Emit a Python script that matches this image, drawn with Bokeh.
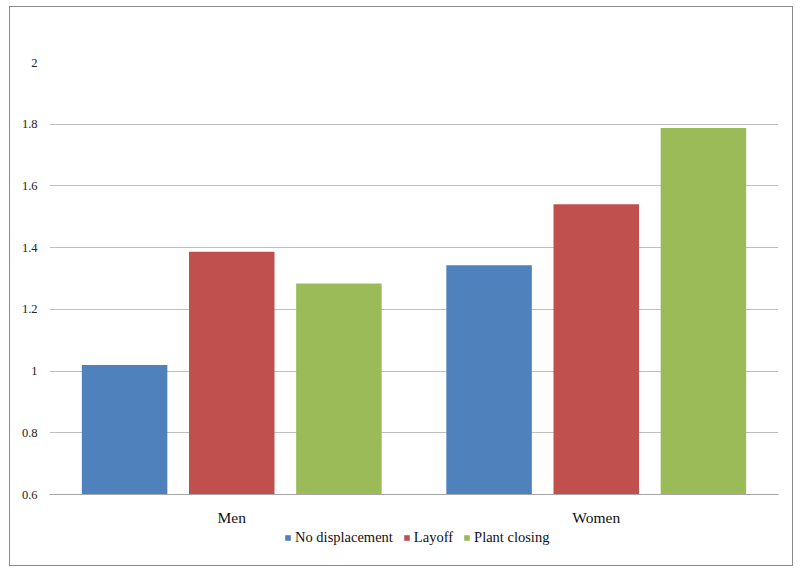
from bokeh.plotting import figure
from bokeh.layouts import column
from bokeh.models import ColumnDataSource, FactorRange, FixedTicker, Legend, LegendItem
from bokeh.transform import dodge
from bokeh.embed import file_html
from bokeh.resources import INLINE

groups = ["Men", "Women"]
series_names = ["No displacement", "Layoff", "Plant closing"]
no_displacement = [1.020, 1.343]
layoff = [1.387, 1.541]
plant_closing = [1.284, 1.788]
y_ticks = [0.6, 0.8, 1.0, 1.2, 1.4, 1.6, 1.8, 2.0]
y_tick_labels = ["0.6", "0.8", "1", "1.2", "1.4", "1.6", "1.8", "2"]

colors = ["#4F81BD", "#C0504D", "#9BBB59"]
offsets = [-0.294, 0.0, 0.294]
series_cols = ["s0", "s1", "s2"]

source = ColumnDataSource(dict(groups=groups, s0=no_displacement, s1=layoff, s2=plant_closing))

p = figure(x_range=FactorRange(*groups, range_padding=0), y_range=(0.6, 2.0),
           width=784, height=522, output_backend="svg", toolbar_location=None,
           min_border_left=40, min_border_right=15, min_border_top=56, min_border_bottom=32)
p.border_fill_color = None
p.background_fill_color = None

for i, (col, c) in enumerate(zip(series_cols, colors)):
    p.vbar(x=dodge("groups", offsets[i], range=p.x_range), top=col, bottom=0.6,
           width=0.2346, source=source, fill_color=c, line_color=None)

p.outline_line_color = None
p.xgrid.grid_line_color = None
p.ygrid.grid_line_color = "#C0C0C0"
p.ygrid.grid_line_width = 1

p.yaxis.ticker = FixedTicker(ticks=y_ticks)
p.yaxis.major_label_overrides = dict(zip(y_ticks, y_tick_labels))
p.yaxis.axis_line_color = None
p.yaxis.major_tick_line_color = None
p.yaxis.minor_tick_line_color = None
p.yaxis.major_label_text_font = "Liberation Serif"
p.yaxis.major_label_text_font_size = "12.5px"
p.yaxis.major_label_text_color = "#222222"
p.yaxis.major_label_standoff = 6

p.xaxis.axis_line_color = "#A6A6A6"
p.xaxis.major_tick_line_color = None
p.xaxis.minor_tick_line_color = None
p.xaxis.major_label_text_font = "Liberation Serif"
p.xaxis.major_label_text_font_size = "15.5px"
p.xaxis.major_label_text_color = "#111111"
p.xaxis.major_label_standoff = 8

# legend strip: hidden swatch renderers that only lend their colours to the legend
lg = figure(width=784, height=38, output_backend="svg", toolbar_location=None,
            x_range=(0, 1), y_range=(0, 1), min_border=0)
lg.border_fill_color = None
lg.background_fill_color = None
lg.axis.visible = False
lg.grid.visible = False
lg.outline_line_color = None
swatches = []
for col, c in zip(series_cols, colors):
    swatches.append(lg.vbar(x=col, top=col, width=0.1, source=source,
                            fill_color=c, line_color=None, visible=False))

legend = Legend(items=[LegendItem(label=n, renderers=[r]) for n, r in zip(series_names, swatches)],
                orientation="horizontal", location=(235, 20),
                glyph_width=7, glyph_height=7, label_standoff=4, spacing=10,
                label_height=14, padding=0, margin=0,
                inactive_fill_alpha=0, click_policy="none",
                label_text_font="Liberation Serif", label_text_font_size="14.5px",
                label_text_color="#111111", border_line_color=None,
                background_fill_alpha=0)
lg.add_layout(legend)

layout = column(p, lg, spacing=0)
layout.margin = (6, 0, 0, 9)
layout.styles = {"outline": "1px solid #8a8a8a", "outline-offset": "-1px"}

open("out.html", "w").write(file_html(layout, INLINE))
